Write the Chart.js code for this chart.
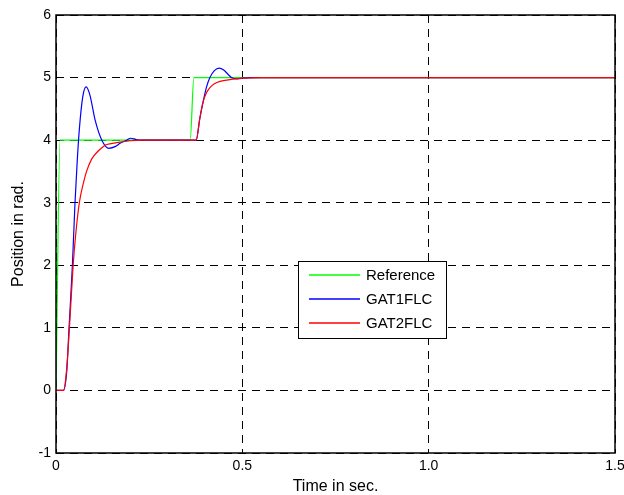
<!DOCTYPE html>
<html>
<head>
<meta charset="utf-8">
<script src="https://cdn.jsdelivr.net/npm/chart.js@4"></script>
<style>
  html, body { margin: 0; padding: 0; background: #fff; }
  #wrap { width: 624px; height: 495px; }
</style>
</head>
<body>
<div id="wrap"><canvas id="myChart" width="624" height="495"></canvas></div>
<script>
// data
const seriesNames = ['Reference', 'GAT1FLC', 'GAT2FLC'];
const seriesColors = ['#00ff00', '#0000ff', '#ff0000'];

const refT = [0, 0.011, 0.36, 0.37, 1.5];
const refY = [0, 4, 4, 5, 5];

const gat1T = [0, 0.02, 0.029, 0.035, 0.044, 0.051, 0.057, 0.063, 0.072, 0.081, 0.091, 0.105, 0.123, 0.142, 0.16, 0.172, 0.19, 0.2, 0.215, 0.23,
               0.376, 0.386, 0.395, 0.404, 0.413, 0.425, 0.438, 0.45, 0.462, 0.471, 0.485, 0.52, 1.5];
const gat1Y = [0, 0, 0.32, 1.0, 2.0, 3.0, 3.67, 4.2, 4.7, 4.85, 4.72, 4.32, 4.0, 3.87, 3.9, 3.95, 4.0, 4.03, 4.01, 4.0,
               4.0, 4.35, 4.62, 4.85, 5.0, 5.11, 5.15, 5.12, 5.05, 5.0, 4.98, 5.0, 5.0];

const gat2T = [0, 0.02, 0.028, 0.036, 0.046, 0.053, 0.0626, 0.073, 0.082, 0.096, 0.114, 0.127, 0.136, 0.163, 0.2, 0.23,
               0.376, 0.386, 0.395, 0.404, 0.413, 0.425, 0.44, 0.47, 0.5, 0.55, 1.5];
const gat2Y = [0, 0, 0.3, 1.0, 2.0, 2.5, 3.0, 3.3, 3.5, 3.7, 3.83, 3.9, 3.93, 3.96, 3.99, 4.0,
               4.0, 4.35, 4.62, 4.76, 4.84, 4.9, 4.94, 4.97, 4.99, 5.0, 5.0];

const xTicks = [0, 0.5, 1, 1.5];
const yTicks = [-1, 0, 1, 2, 3, 4, 5, 6];

const toPoints = (ts, ys) => ts.map((t, i) => ({ x: t, y: ys[i] }));

// legend box inside the plot, matlab style
const boxLegend = {
  id: 'boxLegend',
  afterDatasetsDraw(chart) {
    const ctx = chart.ctx;
    const x = 298.5, y = 261.5, w = 148, h = 77;
    ctx.save();
    ctx.setLineDash([]);
    ctx.fillStyle = '#fff';
    ctx.fillRect(x, y, w, h);
    ctx.strokeStyle = '#000';
    ctx.lineWidth = 1;
    ctx.strokeRect(x, y, w, h);
    ctx.font = '15px "Liberation Sans", Arial, sans-serif';
    ctx.textBaseline = 'middle';
    seriesNames.forEach((name, i) => {
      const ly = 275 + i * 24;
      ctx.strokeStyle = seriesColors[i];
      ctx.lineWidth = 1.6;
      ctx.beginPath();
      ctx.moveTo(309, ly);
      ctx.lineTo(360, ly);
      ctx.stroke();
      ctx.fillStyle = '#000';
      ctx.fillText(name, 366, ly + 1);
    });
    ctx.restore();
  },
  afterDraw(chart) {
    // solid frame round the plot
    const a = chart.chartArea;
    const ctx = chart.ctx;
    ctx.save();
    ctx.setLineDash([]);
    ctx.strokeStyle = '#000';
    ctx.lineWidth = 1.5;
    ctx.strokeRect(a.left, a.top, a.right - a.left, a.bottom - a.top);
    ctx.restore();
  }
};

const tickFont = { family: '"Liberation Sans", Arial, sans-serif', size: 14 };
const titleFont = { family: '"Liberation Sans", Arial, sans-serif', size: 16, lineHeight: 1 };

const ctx = document.getElementById('myChart').getContext('2d');
const myChart = new Chart(ctx, {
  type: 'line',
  data: {
    datasets: [
      { label: seriesNames[0], data: toPoints(refT, refY), borderColor: seriesColors[0], order: 3 },
      { label: seriesNames[1], data: toPoints(gat1T, gat1Y), borderColor: seriesColors[1], order: 2 },
      { label: seriesNames[2], data: toPoints(gat2T, gat2Y), borderColor: seriesColors[2], order: 1 }
    ].map(d => Object.assign(d, { borderWidth: 1.2, pointRadius: 0, fill: false, cubicInterpolationMode: 'monotone' }))
  },
  options: {
    responsive: false,
    animation: false,
    layout: { padding: { top: 15, right: 9, left: 0, bottom: 0 } },
    plugins: { legend: { display: false }, tooltip: { enabled: false } },
    scales: {
      x: {
        type: 'linear',
        min: 0, max: 1.5,
        afterBuildTicks: s => { s.ticks = xTicks.map(v => ({ value: v })); },
        afterFit: s => { s.height = 42; s.paddingRight = 0; s.paddingLeft = 0; },
        grid: { color: '#000', lineWidth: 1, drawTicks: false },
        border: { display: false, dash: [8, 6] },
        ticks: { color: '#000', font: tickFont, padding: 5, maxRotation: 0 },
        title: { display: true, text: 'Time in sec.', color: '#000', font: titleFont, padding: { top: 0, bottom: 0 } }
      },
      y: {
        type: 'linear',
        min: -1, max: 6,
        afterBuildTicks: s => { s.ticks = yTicks.map(v => ({ value: v })); },
        afterFit: s => { s.width = 56; },
        grid: { color: '#000', lineWidth: 1, drawTicks: false },
        border: { display: false, dash: [8, 6] },
        ticks: { color: '#000', font: tickFont, padding: 5 },
        title: { display: true, text: 'Position in rad.', color: '#000', font: titleFont, padding: { top: 11, bottom: 0 } }
      }
    }
  },
  plugins: [boxLegend]
});
</script>
</body>
</html>
